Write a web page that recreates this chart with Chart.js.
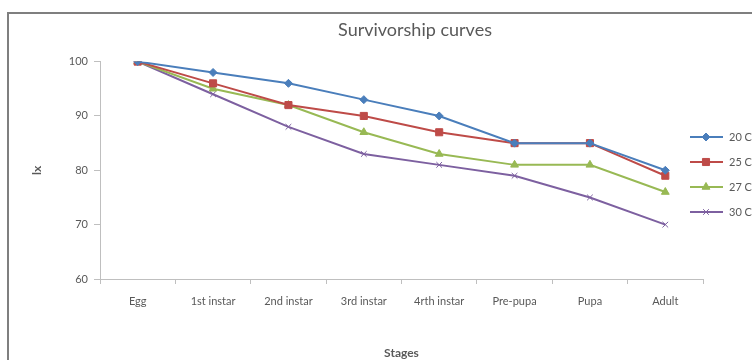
<!DOCTYPE html>
<html>
<head>
<meta charset="utf-8">
<script src="https://cdn.jsdelivr.net/npm/chart.js@4/dist/chart.umd.min.js"></script>
<style>
  html, body { margin: 0; padding: 0; background: #fff; }
  #wrap { width: 752px; height: 360px; position: relative; }
</style>
</head>
<body>
<div id="wrap"><canvas id="chart" width="752" height="360"></canvas></div>
<script>
const stages = ["Egg", "1st instar", "2nd instar", "3rd instar", "4rth instar", "Pre-pupa", "Pupa", "Adult"];
const t20 = [100, 98, 96, 93, 90, 85, 85, 80];
const t25 = [100, 96, 92, 90, 87, 85, 85, 79];
const t27 = [100, 95, 92, 87, 83, 81, 81, 76];
const t30 = [100, 94, 88, 83, 81, 79, 75, 70];
const seriesNames = ["20 C", "25 C", "27 C", "30 C"];

const tickFont = { family: "Lato, 'Open Sans', sans-serif", size: 11 };
const grey = "#595959";

// outer frame of the chart box
const framePlugin = {
  id: "frame",
  beforeDraw(chart) {
    const ctx = chart.ctx;
    ctx.save();
    ctx.fillStyle = "#fff";
    ctx.fillRect(0, 0, chart.width, chart.height);
    ctx.strokeStyle = "#7f7f7f";
    ctx.lineWidth = 2;
    ctx.strokeRect(8, 13, 800, 400);
    ctx.restore();
  },
  // the box is wider than the window, so the title is centred further right
  afterLayout(chart) {
    if (chart.titleBlock) {
      chart.titleBlock.left = 78;
      chart.titleBlock.right = 752;
    }
  }
};

// legend sits over the right edge like in the excel picture
const sideLegend = {
  id: "sideLegend",
  afterDraw(chart) {
    const ctx = chart.ctx;
    chart.data.datasets.forEach((ds, i) => {
      const y = 137 + i * 25;
      ctx.save();
      ctx.strokeStyle = ds.borderColor;
      ctx.fillStyle = ds.borderColor;
      ctx.lineWidth = 2;
      ctx.beginPath();
      ctx.moveTo(690, y);
      ctx.lineTo(723, y);
      ctx.stroke();
      ctx.lineWidth = 1;
      Chart.helpers.drawPoint(ctx, {
        pointStyle: ds.pointStyle,
        radius: ds.pointRadius,
        rotation: 0,
        borderWidth: 1
      }, 706, y);
      ctx.fillStyle = grey;
      ctx.font = "11px Lato, 'Open Sans', sans-serif";
      ctx.textBaseline = "middle";
      ctx.fillText(ds.label, 729, y);
      ctx.restore();
    });
  }
};

function makeSet(label, data, color, style, r) {
  return {
    label, data,
    borderColor: color,
    backgroundColor: color,
    pointBackgroundColor: color,
    pointBorderColor: color,
    borderWidth: 2,
    pointStyle: style,
    pointRadius: r,
    pointHoverRadius: r,
    pointBorderWidth: 1,
    tension: 0,
    fill: false
  };
}

new Chart(document.getElementById("chart"), {
  type: "line",
  data: {
    labels: stages,
    datasets: [
      makeSet(seriesNames[0], t20, "#4a7ebb", "rectRot", 4),
      makeSet(seriesNames[1], t25, "#be4b48", "rect", 5),
      makeSet(seriesNames[2], t27, "#98b954", "triangle", 4.5),
      makeSet(seriesNames[3], t30, "#7d60a0", "crossRot", 4)
    ]
  },
  options: {
    responsive: false,
    animation: false,
    layout: { padding: { left: 0, right: 49, top: 0, bottom: 0 } },
    plugins: {
      legend: { display: false },
      tooltip: { enabled: false },
      title: {
        display: true,
        text: "Survivorship curves",
        color: grey,
        font: { family: "Lato, 'Open Sans', sans-serif", size: 18, weight: "normal", lineHeight: 1.2 },
        padding: { top: 19, bottom: 21 }
      }
    },
    scales: {
      x: {
        offset: true,
        afterFit(s) { s.height = 81; },
        grid: { offset: true, drawOnChartArea: false, tickLength: 5, color: "#bfbfbf" },
        border: { color: "#bfbfbf", width: 1 },
        ticks: { color: grey, font: tickFont, padding: 11, maxRotation: 0, autoSkip: false },
        title: {
          display: true, text: "Stages", color: grey,
          font: { family: "Lato, 'Open Sans', sans-serif", size: 12, weight: "bold", lineHeight: 1.2 },
          padding: { top: 0, bottom: 0 }
        }
      },
      y: {
        min: 60, max: 100,
        afterFit(s) { s.width = 100; },
        grid: { drawOnChartArea: false, tickLength: 6, color: "#bfbfbf" },
        border: { color: "#bfbfbf", width: 1 },
        ticks: { stepSize: 10, color: grey, font: tickFont, padding: 6 },
        title: {
          display: true, text: "lx", color: grey,
          font: { family: "Lato, 'Open Sans', sans-serif", size: 12, weight: "bold", lineHeight: 1.2 },
          padding: { top: 30, bottom: 0 }
        }
      }
    }
  },
  plugins: [framePlugin, sideLegend]
});
</script>
</body>
</html>
